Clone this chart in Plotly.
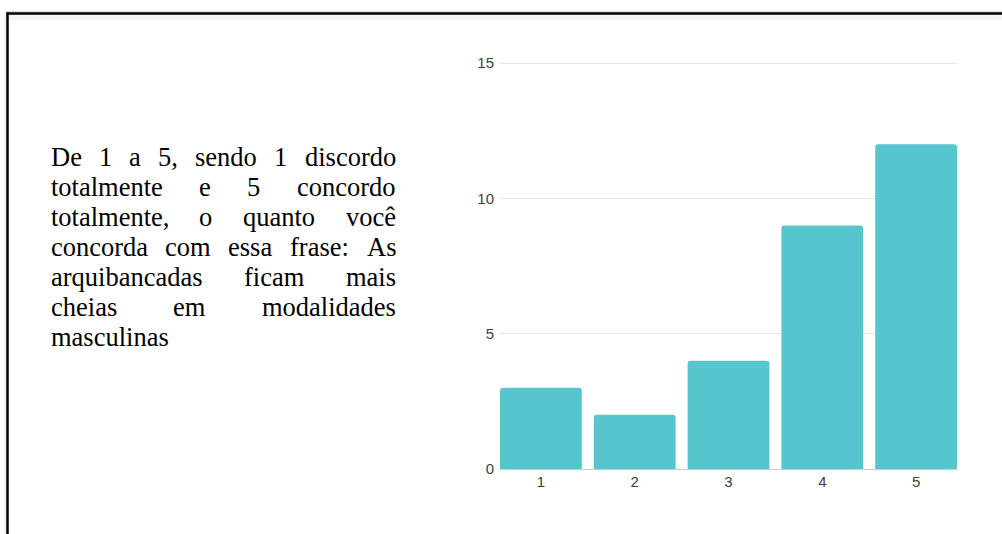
import plotly.graph_objects as go

# ---------------- data ----------------
categories = ["1", "2", "3", "4", "5"]
counts = [3, 2, 4, 9, 12]
y_ticks = [0, 5, 10, 15]
question_lines = [
    "De 1 a 5, sendo 1 discordo",
    "totalmente e 5 concordo",
    "totalmente, o quanto você",
    "concorda com essa frase: As",
    "arquibancadas ficam mais",
    "cheias em modalidades",
    "masculinas",
]

# ---------------- layout helpers ----------------
W, H = 1002, 534


def px(x):
    return x / W


def py(y):
    return 1 - y / H


# Times / Liberation Serif advance widths (per 1000 em)
TIMES = {
    " ": 250, ",": 250, ":": 278, "1": 500, "2": 500, "3": 500, "4": 500, "5": 500,
    "A": 722, "D": 722, "a": 444, "b": 500, "c": 444, "d": 500, "e": 444, "f": 333,
    "h": 500, "i": 278, "l": 278, "m": 778, "n": 500, "o": 500, "q": 500, "r": 333,
    "s": 389, "t": 278, "u": 500, "v": 500, "ê": 444,
}
FS = 26.5
TEXT_LEFT, TEXT_RIGHT = 50.5, 395.5
FIRST_CENTER, PITCH = 157.0, 30.0


def wwidth(word):
    return sum(TIMES.get(c, 500) for c in word) / 1000 * FS


annotations = []
for i, line in enumerate(question_lines):
    yc = FIRST_CENTER + i * PITCH
    words = line.split(" ")
    last = i == len(question_lines) - 1
    if last or len(words) == 1:
        annotations.append(dict(x=px(TEXT_LEFT), y=py(yc), xref="paper", yref="paper",
                                text=line, showarrow=False, xanchor="left", yanchor="middle",
                                borderpad=0, borderwidth=0,
                                font=dict(family="Liberation Serif", size=FS, color="#000000")))
        continue
    widths = [wwidth(w) for w in words]
    gap = (TEXT_RIGHT - TEXT_LEFT - sum(widths)) / (len(words) - 1)
    x = TEXT_LEFT
    for j, (w, ww) in enumerate(zip(words, widths)):
        if j == len(words) - 1:
            ax, anc = TEXT_RIGHT, "right"
        else:
            ax, anc = x, "left"
        annotations.append(dict(x=px(ax), y=py(yc), xref="paper", yref="paper",
                                text=w, showarrow=False, xanchor=anc, yanchor="middle",
                                borderpad=0, borderwidth=0,
                                font=dict(family="Liberation Serif", size=FS, color="#000000")))
        x += ww + gap

bargap = 0.128
Y_TOP = 15.1            # a little headroom so the 15 gridline is drawn
PX_PER_UNIT = (469 - 63) / 15

fig = go.Figure()
fig.add_trace(go.Bar(
    x=categories, y=counts,
    marker=dict(color="#56C5CD", cornerradius=3, line=dict(width=0)),
    hoverinfo="skip",
))

shapes = [
    # outer frame (document border)
    dict(type="line", xref="paper", yref="paper", x0=px(6), x1=px(1002), y0=py(11.5), y1=py(11.5),
         line=dict(color="#d8d8d8", width=1)),
    dict(type="rect", xref="paper", yref="paper", x0=px(9), x1=px(1002), y0=py(15), y1=py(20),
         fillcolor="#f4f4f4", line=dict(width=0)),
    dict(type="line", xref="paper", yref="paper", x0=px(6.5), x1=px(1002), y0=py(13.5), y1=py(13.5),
         line=dict(color="#000000", width=2.5)),
    dict(type="line", xref="paper", yref="paper", x0=px(5), x1=px(5), y0=py(12), y1=py(534),
         line=dict(color="#e6e6e6", width=1)),
    dict(type="line", xref="paper", yref="paper", x0=px(7.5), x1=px(7.5), y0=py(12.5), y1=py(534),
         line=dict(color="#000000", width=2.5)),
]

fig.update_layout(
    width=W, height=H,
    margin=dict(l=0, r=0, t=0, b=0, pad=0, autoexpand=False),
    paper_bgcolor="#ffffff", plot_bgcolor="#ffffff",
    showlegend=False,
    bargap=bargap,
    annotations=annotations,
    shapes=shapes,
    xaxis=dict(
        domain=[px(500), px(957)],
        type="category",
        range=[-0.5 + bargap / 2, 4.5 - bargap / 2],
        showgrid=False, zeroline=False, showline=False, automargin=False,
        ticks="", ticklabelstandoff=2,
        tickfont=dict(family="Liberation Sans, Arial", size=15, color="#404040"),
        fixedrange=True,
    ),
    yaxis=dict(
        domain=[py(469), py(469 - Y_TOP * PX_PER_UNIT)],
        range=[0, Y_TOP],
        tickvals=y_ticks,
        showgrid=True, gridcolor="#e6e6e6", gridwidth=1,
        zeroline=True, zerolinecolor="#cccccc", zerolinewidth=1,
        showline=False, ticks="", ticklabelstandoff=5, automargin=False,
        tickfont=dict(family="Liberation Sans, Arial", size=15, color="#404040"),
        fixedrange=True,
    ),
)

fig.write_html("out.html", config={"displayModeBar": False},
               post_script="document.body.style.margin='0';")
